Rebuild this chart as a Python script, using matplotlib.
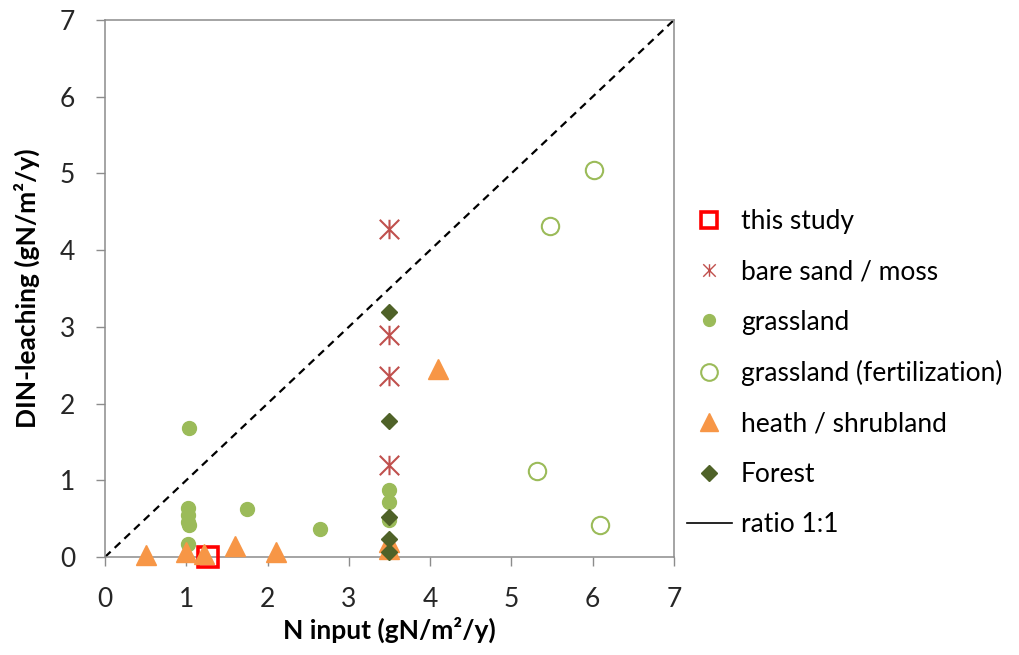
import matplotlib
matplotlib.use("Agg")
import matplotlib.pyplot as plt
from matplotlib.path import Path
from matplotlib.lines import Line2D

plt.rcParams['font.family'] = ['Lato', 'DejaVu Sans']

# Data
study_x = [1.27]
study_y = [0.0]
sand_x = [3.5, 3.5, 3.5, 3.5]
sand_y = [4.28, 2.9, 2.36, 1.2]
grass_x = [1.04, 1.02, 1.02, 1.02, 1.04, 1.02, 1.75, 2.65, 3.5, 3.5, 3.5]
grass_y = [1.68, 0.64, 0.55, 0.45, 0.42, 0.17, 0.63, 0.37, 0.87, 0.72, 0.48]
fert_x = [6.02, 5.47, 5.32, 6.09]
fert_y = [5.04, 4.32, 1.12, 0.42]
heath_x = [0.5, 1.0, 1.22, 1.6, 2.1, 4.1, 3.5, 3.5]
heath_y = [0.02, 0.06, 0.04, 0.14, 0.06, 2.45, 0.2, 0.1]
forest_x = [3.5, 3.5, 3.5, 3.5, 3.5]
forest_y = [3.2, 1.77, 0.52, 0.24, 0.07]
ratio_x = [0, 7]
ratio_y = [0, 7]
ticks = [0, 1, 2, 3, 4, 5, 6, 7]

labels = ["this study", "bare sand / moss", "grassland",
          "grassland (fertilization)", "heath / shrubland", "Forest", "ratio 1:1"]

star = Path([(-1, -1), (1, 1), (-1, 1), (1, -1), (0, -1), (0, 1)],
            [Path.MOVETO, Path.LINETO, Path.MOVETO, Path.LINETO, Path.MOVETO, Path.LINETO])

FS = 19

fig = plt.figure(figsize=(10.19, 6.55), dpi=100)
ax = fig.add_axes([0.103, 0.1496, 0.5584, 0.8199])

ax.plot(ratio_x, ratio_y, ls=(0, (3.5, 2.5)), color='black', lw=1.6, zorder=1)
ax.plot(study_x, study_y, ls='none', marker='s', ms=14, mfc='none', mec='#FF0000', mew=2.6, zorder=3, clip_on=False)
ax.plot(sand_x, sand_y, ls='none', marker=star, ms=14, mec='#C0504D', mew=1.5, zorder=3, clip_on=False)
ax.plot(grass_x, grass_y, ls='none', marker='o', ms=10, mfc='#9BBB59', mec='#9BBB59', zorder=3, clip_on=False)
ax.plot(fert_x, fert_y, ls='none', marker='o', ms=12.5, mfc='white', mec='#9BBB59', mew=1.5, zorder=3, clip_on=False)
ax.plot(heath_x, heath_y, ls='none', marker='^', ms=14, mfc='#F79646', mec='#F79646', zorder=3, clip_on=False)
ax.plot(forest_x, forest_y, ls='none', marker='D', ms=8.5, mfc='#4F6228', mec='#4F6228', zorder=3, clip_on=False)

ax.set_xlim(0, 7)
ax.set_ylim(0, 7)
ax.set_xticks(ticks)
ax.set_yticks(ticks)
for s in ['left', 'bottom', 'top', 'right']:
    ax.spines[s].set_color('#8c8c8c')
    ax.spines[s].set_linewidth(1.1)
ax.tick_params(direction='out', length=6.5, width=1.0, color='#8c8c8c', labelsize=FS, labelcolor='#262626')
ax.tick_params(axis='x', pad=15)
ax.tick_params(axis='y', pad=15)
ax.set_xlabel("N input (gN/m²/y)", fontsize=FS, fontweight='bold')
ax.set_ylabel("DIN-leaching (gN/m²/y)", fontsize=FS, fontweight='bold')
ax.xaxis.set_label_coords(0.5, -0.112)
ax.yaxis.set_label_coords(-0.115, 0.5)

handles = [
    Line2D([], [], ls='none', marker='s', ms=12, mfc='none', mec='#FF0000', mew=2.6),
    Line2D([], [], ls='none', marker=star, ms=9, mec='#C0504D', mew=1.0),
    Line2D([], [], ls='none', marker='o', ms=8.5, mfc='#9BBB59', mec='#9BBB59'),
    Line2D([], [], ls='none', marker='o', ms=12, mfc='white', mec='#9BBB59', mew=1.5),
    Line2D([], [], ls='none', marker='^', ms=13, mfc='#F79646', mec='#F79646'),
    Line2D([], [], ls='none', marker='D', ms=8, mfc='#4F6228', mec='#4F6228'),
    Line2D([], [], color='black', lw=1.2),
]
fig.legend(handles, labels, loc='upper left', bbox_to_anchor=(687 / 1019, 1 - 209 / 655),
           frameon=False, fontsize=FS, handlelength=1.7, handletextpad=0.34,
           labelspacing=0.96, borderaxespad=0, borderpad=0)

fig.savefig("out.png", dpi=100)
